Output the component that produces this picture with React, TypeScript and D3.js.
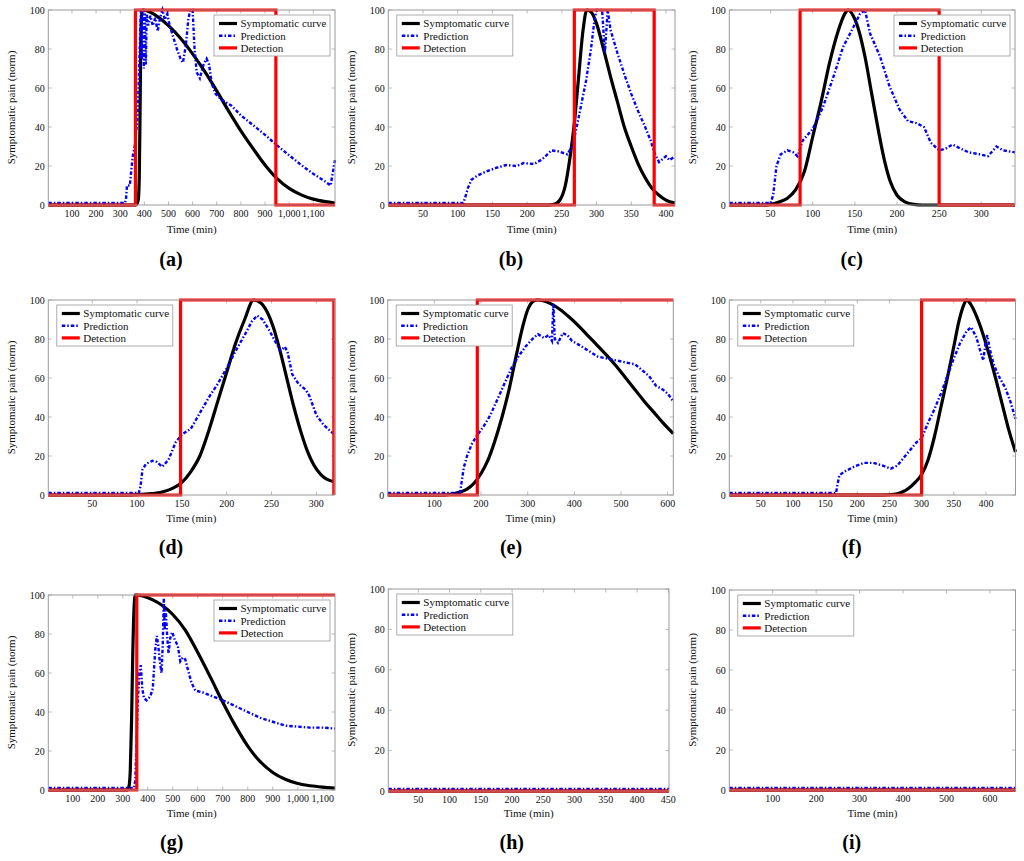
import React from 'react';
import * as d3 from 'd3';

type Pt = [number, number];

const yTicks = [0, 20, 40, 60, 80, 100];
const legendNames = ['Symptomatic curve', 'Prediction', 'Detection'];
const panelLabels = ['(a)', '(b)', '(c)', '(d)', '(e)', '(f)', '(g)', '(h)', '(i)'];

// ---------- (a) ----------
const aXTicks = [100, 200, 300, 400, 500, 600, 700, 800, 900, 1000, 1100];
const aSymptom: Pt[] = [[2,0],[355,0],[368,0.5],[375,3],[379,15],[382,45],[385,80],[388,96],[393,100],[410,99.6],[450,97],[500,92],[550,85.5],[600,77.5],[650,68.5],[700,58.5],[750,48],[800,38],[850,29],[900,20.5],[950,13.5],[1000,8.5],[1050,5.2],[1100,3],[1150,1.7],[1190,1]];
const aPrediction: Pt[] = [[2,1],[320,1],[324,3],[328,10],[340,10],[346,18],[352,25],[360,30],[372,45],[382,85],[386,100],[390,75],[394,100],[398,70],[402,100],[406,72],[410,98],[416,92],[425,97],[435,92],[445,96],[455,89],[465,96],[475,100],[485,95],[495,98],[505,92],[520,86],[535,80],[550,75],[560,73],[572,82],[582,95],[590,100],[600,100],[608,80],[617,68],[630,65],[645,72],[658,75],[668,72],[680,62],[695,57],[720,54],[760,51],[800,46],[850,41],[900,36],[950,30.5],[1000,25.5],[1050,20.5],[1100,16],[1150,12],[1172,10],[1180,16],[1190,23]];
const aDetection: Pt[] = [[2,0],[363,0],[363,100],[945,100],[945,0],[1190,0]];

// ---------- (b) ----------
const bXTicks = [50, 100, 150, 200, 250, 300, 350, 400];
const bSymptom: Pt[] = [[0,0],[230,0],[240,0.5],[248,3],[255,10],[262,25],[268,42],[274,65],[280,88],[286,100],[292,99],[300,93],[310,80],[320,66],[330,53],[340,40],[350,30],[360,21],[370,14],[380,8.5],[390,5],[400,2.5],[413,1]];
const bPrediction: Pt[] = [[0,1],[108,1],[110,3],[115,9],[120,13],[128,15],[140,17],[155,19],[170,20.5],[185,20],[195,21.5],[210,21],[222,23.5],[235,28],[245,27.5],[258,26],[266,31],[276,48],[285,64],[292,80],[297,95],[300,100],[308,100],[312,78],[316,100],[320,90],[330,78],[340,67],[350,57],[360,48],[370,40],[378,33],[383,27],[390,22],[400,25],[405,23],[413,25]];
const bDetection: Pt[] = [[0,0],[268,0],[268,100],[383,100],[383,0],[413,0]];

// ---------- (c) ----------
const cXTicks = [50, 100, 150, 200, 250, 300];
const cSymptom: Pt[] = [[1,0],[40,0],[50,0.3],[60,1.5],[70,3.5],[80,8],[90,17],[100,35],[110,53],[120,73],[130,89],[138,98],[142,100],[148,97],[155,89],[162,76],[170,57],[178,38],[185,23],[192,12],[200,5],[210,1.5],[220,0.3],[230,0],[340,0]];
const cPrediction: Pt[] = [[1,1],[50,1],[53,5],[57,20],[62,26],[70,28],[77,27],[82,25],[88,33],[100,39],[112,50],[124,65],[136,81],[148,91],[156,98],[162,100],[168,88],[180,76],[191,61],[203,49],[213,43],[223,42],[232,40],[240,32],[250,28],[258,29],[266,31],[275,29],[285,27],[298,26],[308,25],[318,30],[326,28],[340,27]];
const cDetection: Pt[] = [[1,0],[85,0],[85,100],[250,100],[250,0],[340,0]];

// ---------- (d) ----------
const dXTicks = [50, 100, 150, 200, 250, 300];
const dSymptom: Pt[] = [[1,0],[90,0],[100,0.2],[110,0.5],[120,0.9],[130,1.8],[140,3.5],[150,6.5],[160,12],[170,20],[180,33],[190,48],[200,63],[210,78],[220,90],[230,100],[238,98.5],[245,94],[252,86],[260,73],[268,58],[275,45],[283,32],[290,22.5],[297,15.5],[305,10.5],[312,8],[320,6.8]];
const dPrediction: Pt[] = [[1,1],[102,1],[104,5],[106,13],[110,16],[117,17.5],[122,17],[128,14.5],[135,18],[143,27],[150,31],[160,34],[170,42],[180,50],[190,57],[200,65],[210,74],[220,82],[228,89],[234,92],[240,90],[248,84],[255,78],[260,74],[265,76],[268,73],[273,62],[280,57],[288,54],[292,51],[300,41],[308,36],[320,31]];
const dDetection: Pt[] = [[1,0],[148.5,0],[148.5,100],[319.5,100],[319.5,0]];

// ---------- (e) ----------
const eXTicks = [100, 200, 300, 400, 500, 600];
const eSymptom: Pt[] = [[0,0],[120,0],[140,0.5],[155,1.5],[170,3],[185,6],[200,11],[215,18],[230,28],[245,40],[260,54],[275,71],[290,87],[300,95],[310,99],[320,100],[335,99.5],[350,98],[370,95],[390,91],[410,86.5],[430,81.5],[450,76.5],[470,71.5],[490,66],[510,60],[530,54],[550,48],[570,42.5],[590,37],[612,31.5]];
const ePrediction: Pt[] = [[0,1],[155,1],[158,6],[163,14],[170,20],[180,26],[190,30],[205,35],[220,41],[235,49],[250,57],[265,65],[280,71],[295,76],[310,80],[322,82.5],[335,80.5],[345,82],[352,79],[355,98],[358,80],[365,78],[375,83],[385,82],[395,79],[410,77],[430,74],[450,71],[470,70],[490,69],[510,68],[530,67],[545,64],[560,61],[575,56],[590,54],[600,52],[612,48]];
const eDetection: Pt[] = [[0,0],[192,0],[192,100],[612,100]];

// ---------- (f) ----------
const fXTicks = [50, 100, 150, 200, 250, 300, 350, 400];
const fSymptom: Pt[] = [[1,0],[240,0],[260,0.5],[270,1.5],[280,3.5],[290,6.5],[300,10.5],[310,18],[320,30],[330,45],[340,60],[350,76],[358,89],[365,97],[370,100],[376,98],[385,92],[395,83],[405,72],[415,60],[425,47],[435,34],[446,22]];
const fPrediction: Pt[] = [[1,1],[167,1],[169,5],[172,10],[180,12],[195,14.5],[210,16.5],[225,16.5],[240,15],[252,13.5],[262,15],[272,19],[282,23],[292,27],[300,29],[310,37],[320,44],[330,52],[340,61],[350,70],[360,78],[370,84],[377,86],[385,81],[392,73],[396,69],[399,77],[402,82],[406,75],[412,67],[420,61],[430,55],[438,48],[446,39]];
const fDetection: Pt[] = [[1,0],[300,0],[300,100],[446,100]];

// ---------- (g) ----------
const gXTicks = [100, 200, 300, 400, 500, 600, 700, 800, 900, 1000, 1100];
const gSymptom: Pt[] = [[2,0],[318,0],[325,2],[330,10],[335,35],[340,70],[345,93],[350,100],[380,99.5],[420,97.5],[460,94.5],[500,90],[550,82],[600,70.5],[650,58],[700,45],[750,33],[800,22.5],[850,14.5],[900,9],[950,5.5],[1000,3.3],[1050,2.2],[1100,1.5],[1149,1]];
const gPrediction: Pt[] = [[2,1],[345,1],[350,5],[355,25],[360,45],[366,60],[372,64],[378,52],[385,47],[395,46],[410,48],[420,52],[425,62],[430,72],[436,79],[442,74],[448,66],[455,60],[460,75],[464,98],[468,82],[472,92],[478,78],[483,70],[490,78],[498,81],[508,77],[520,74],[530,66],[540,68],[550,67],[560,62],[575,55],[590,51],[620,50],[660,48],[700,46],[750,43],[800,40],[850,37],[900,35],[950,33],[1000,32.5],[1050,32],[1100,32],[1149,31.5]];
const gDetection: Pt[] = [[2,0],[356,0],[356,100],[1149,100]];

// ---------- (h) ----------
const hXTicks = [50, 100, 150, 200, 250, 300, 350, 400, 450];
const hSymptom: Pt[] = [[2,0],[451,0]];
const hPrediction: Pt[] = [[2,1],[451,1]];
const hDetection: Pt[] = [[2,0],[451,0]];

// ---------- (i) ----------
const iXTicks = [100, 200, 300, 400, 500, 600];
const iSymptom: Pt[] = [[0,0],[659,0]];
const iPrediction: Pt[] = [[0,1],[659,1]];
const iDetection: Pt[] = [[0,0],[659,0]];

const xDomains: Pt[] = [[2,1190],[0,413],[1,340],[1,320],[0,612],[1,446],[2,1149],[2,451],[0,659]];

// layout (pixel geometry only)
const layout = [
  { l: 48.3, r: 335, t: 10, b: 205, legend: 'right', lab: 171, row: 0 },
  { l: 388.3, r: 675, t: 10, b: 205, legend: 'left', lab: 511, row: 0 },
  { l: 729.3, r: 1015, t: 10, b: 205, legend: 'right', lab: 851.7, row: 0 },
  { l: 48.3, r: 334.3, t: 300, b: 495, legend: 'left', lab: 171, row: 1 },
  { l: 387.7, r: 673.3, t: 300, b: 495, legend: 'left', lab: 511, row: 1 },
  { l: 729.3, r: 1015.5, t: 300, b: 495, legend: 'left', lab: 851.7, row: 1 },
  { l: 48.3, r: 335, t: 595, b: 790, legend: 'right', lab: 171.7, row: 2 },
  { l: 388.3, r: 669, t: 589, b: 791, legend: 'left', lab: 511.7, row: 2 },
  { l: 729.3, r: 1015.5, t: 590, b: 790, legend: 'left', lab: 851.7, row: 2 },
];
const rowLabelY = [266, 554, 849];
const rowTimeY = [233, 522, 817];

const series = [
  [aSymptom, aPrediction, aDetection, aXTicks],
  [bSymptom, bPrediction, bDetection, bXTicks],
  [cSymptom, cPrediction, cDetection, cXTicks],
  [dSymptom, dPrediction, dDetection, dXTicks],
  [eSymptom, ePrediction, eDetection, eXTicks],
  [fSymptom, fPrediction, fDetection, fXTicks],
  [gSymptom, gPrediction, gDetection, gXTicks],
  [hSymptom, hPrediction, hDetection, hXTicks],
  [iSymptom, iPrediction, iDetection, iXTicks],
] as [Pt[], Pt[], Pt[], number[]][];

const FONT = '"Liberation Serif", "Times New Roman", serif';
const BLACK = '#000000';
const BLUE = '#0000ff';
const RED = '#ff0000';
const BLUE_DASH = '3.5,2,1.5,2';
const FRAME = '#999999';
const TICK = '#aaaaaa';
const fmt = d3.format(',');

function Panel({ idx }: { idx: number }) {
  const L = layout[idx];
  const [sym, pred, det, xt] = series[idx];
  const x = d3.scaleLinear().domain(xDomains[idx]).range([L.l, L.r]);
  const y = d3.scaleLinear().domain([0, 100]).range([L.b, L.t]);
  const line = d3.line<Pt>().x(d => x(d[0])).y(d => y(d[1]));
  const smooth = d3.line<Pt>().x(d => x(d[0])).y(d => y(d[1])).curve(d3.curveMonotoneX);
  const tl = 3.5;
  const lw = 116, lh = 41;
  const lx = L.legend === 'right' ? L.r - 5 - lw : L.l + 8.5;
  const ly = L.t + 5;
  const cx = (L.l + L.r) / 2;
  const cy = (L.t + L.b) / 2;
  const legendStyles = [
    { stroke: BLACK, w: 3.2, dash: undefined as string | undefined },
    { stroke: BLUE, w: 2.4, dash: BLUE_DASH },
    { stroke: RED, w: 3.2, dash: undefined as string | undefined },
  ];
  return (
    <g>
      {xt.map(v => (
        <g key={'xt' + v}>
          <line x1={x(v)} x2={x(v)} y1={L.b} y2={L.b - tl} stroke={TICK} strokeWidth={0.8} />
          <line x1={x(v)} x2={x(v)} y1={L.t} y2={L.t + tl} stroke={TICK} strokeWidth={0.8} />
        </g>
      ))}
      {yTicks.map(v => (
        <g key={'yt' + v}>
          <line x1={L.l} x2={L.l + tl} y1={y(v)} y2={y(v)} stroke={TICK} strokeWidth={0.8} />
          <line x1={L.r} x2={L.r - tl} y1={y(v)} y2={y(v)} stroke={TICK} strokeWidth={0.8} />
        </g>
      ))}
      <path d={smooth(sym) || ''} fill="none" stroke={BLACK} strokeWidth={3.2} strokeLinejoin="round" />
      <path d={line(pred) || ''} fill="none" stroke={BLUE} strokeWidth={2.4} strokeDasharray={BLUE_DASH} />
      <path d={line(det) || ''} fill="none" stroke={RED} strokeWidth={3.2} strokeLinejoin="miter" />
      <rect x={L.l} y={L.t} width={L.r - L.l} height={L.b - L.t} fill="none" stroke={FRAME} strokeWidth={1} />
      {xt.map(v => (
        <text key={'xl' + v} x={x(v)} y={L.b + 12} textAnchor="middle" fontSize={10} fontFamily={FONT} fill="#111">{fmt(v)}</text>
      ))}
      {yTicks.map(v => (
        <text key={'yl' + v} x={L.l - 3.5} y={y(v) + 3.5} textAnchor="end" fontSize={10} fontFamily={FONT} fill="#111">{v}</text>
      ))}
      <text x={cx} y={rowTimeY[L.row]} textAnchor="middle" fontSize={11} fontFamily={FONT} fill="#111">Time (min)</text>
      <text transform={`translate(${L.l - 33},${cy}) rotate(-90)`} textAnchor="middle" fontSize={11} fontFamily={FONT} fill="#111">Symptomatic pain (norm)</text>
      <text x={L.lab} y={rowLabelY[L.row]} textAnchor="middle" fontSize={20} fontWeight="bold" fontFamily={FONT} fill="#000">{panelLabels[idx]}</text>
      <g>
        <rect x={lx} y={ly} width={lw} height={lh} fill="#fff" stroke={FRAME} strokeWidth={0.8} />
        {legendNames.map((n, k) => {
          const ry = ly + 8.5 + k * 12.2;
          const s = legendStyles[k];
          return (
            <g key={n}>
              <line x1={lx + 5} x2={lx + 23} y1={ry} y2={ry} stroke={s.stroke} strokeWidth={s.w} strokeDasharray={s.dash} />
              <text x={lx + 26.5} y={ry + 3.8} fontSize={11} fontFamily={FONT} fill="#111">{n}</text>
            </g>
          );
        })}
      </g>
    </g>
  );
}

export default function App() {
  return (
    <svg width={1024} height={861} viewBox="0 0 1024 861" style={{ position: 'absolute', left: 0, top: 0, background: '#fff' }}>
      <rect x={0} y={0} width={1024} height={861} fill="#fff" />
      {layout.map((_, i) => <Panel key={i} idx={i} />)}
    </svg>
  );
}
